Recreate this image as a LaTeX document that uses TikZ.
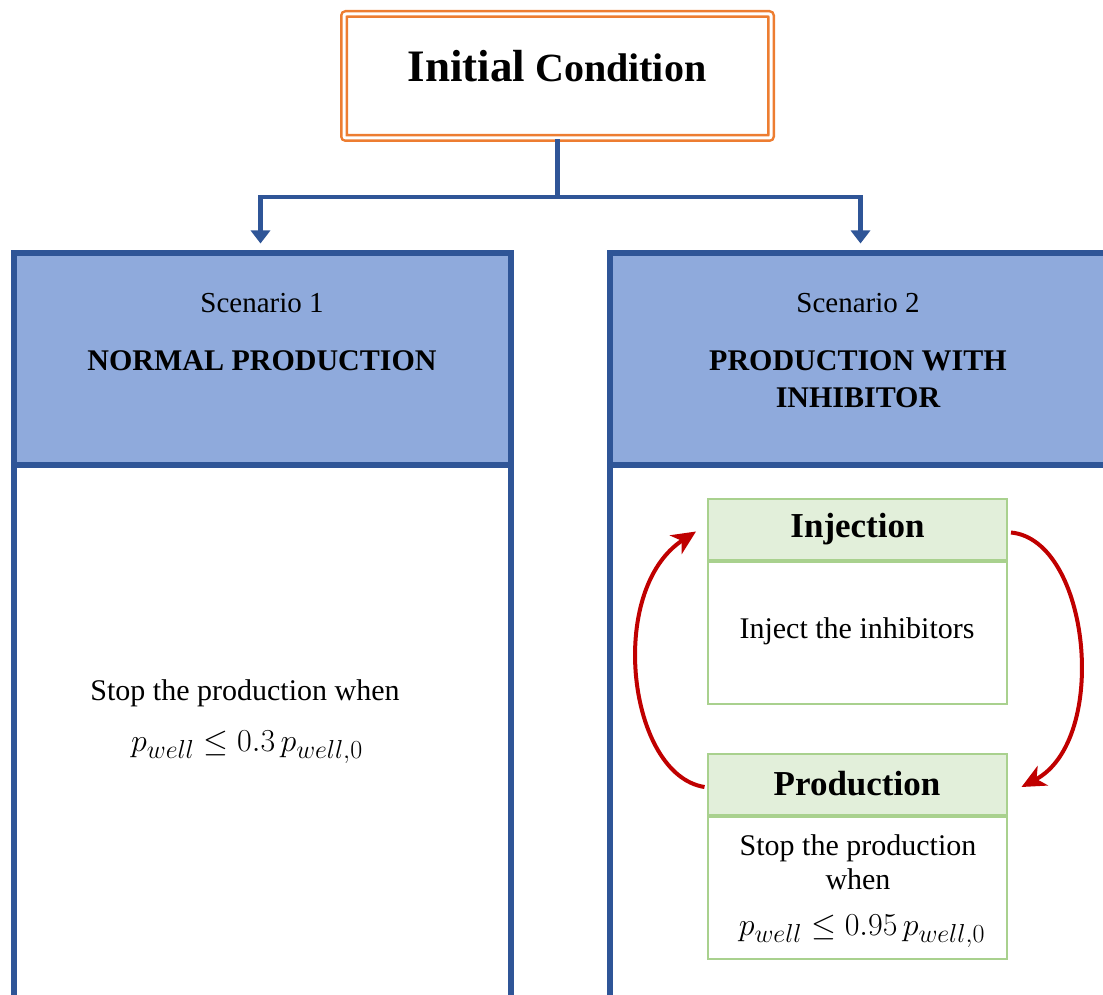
\RequirePackage{fix-cm}
\documentclass[tikz,border=0pt]{standalone}
\usepackage{fontspec}
\setmainfont{Liberation Serif}
\usetikzlibrary{arrows.meta,calc}
\DeclareMathSizes{32}{32}{26}{20}
\definecolor{bluedark}{HTML}{2F5597}
\definecolor{bluefill}{HTML}{8FAADC}
\definecolor{orangeln}{HTML}{ED7D31}
\definecolor{greenln}{HTML}{A9D18E}
\definecolor{greenfill}{HTML}{E2EFDA}
\definecolor{redarrow}{HTML}{C00000}
\tikzset{
  initbox/.style={draw=orangeln, double=white, line width=2.5pt, double distance=3pt, rounded corners=2pt, minimum width=427pt, minimum height=124pt, inner sep=0pt},
  schead/.style={draw=bluedark, fill=bluefill, line width=6pt, minimum width=497pt, minimum height=212pt, inner sep=0pt},
  scbody/.style={draw=bluedark, fill=white, line width=6pt, minimum width=497pt, minimum height=560pt, inner sep=0pt},
  ghead/.style={draw=greenln, fill=greenfill, line width=2pt, minimum width=299pt, minimum height=61pt, inner sep=0pt, font=\fontsize{35}{40}\selectfont\bfseries},
  gbody/.style={draw=greenln, fill=white, line width=2pt, minimum width=299pt, minimum height=142pt, inner sep=0pt},
  conn/.style={draw=bluedark, line width=4.5pt, -{Triangle[length=13pt,width=19pt]}},
  loopar/.style={draw=redarrow, line width=4pt, -{Stealth[length=24pt,width=22pt,inset=7pt]}},
  txt/.style={font=\fontsize{30}{36}\selectfont, inner sep=0pt, align=center},
  mtxt/.style={font=\fontsize{32}{36}\selectfont, inner sep=0pt},
  sctxt/.style={font=\fontsize{29}{34}\selectfont, inner sep=0pt},
  bigtxt/.style={font=\fontsize{30}{34}\selectfont\bfseries, inner sep=0pt, align=center},
}
\begin{document}
\begin{tikzpicture}[x=1pt,y=-1pt]
\useasboundingbox (0,0) rectangle (1103,995);
\clip (0,0) rectangle (1103,995);

% Initial condition
\node[initbox] (init) at (557.5,76) {};
\node[inner sep=0pt, font=\bfseries] (inittxt) at (557,66) {{\fontsize{45}{50}\selectfont Initial}{\fontsize{40}{45}\selectfont\ Condition}};

% Scenario boxes
\node[scbody] (s1body) at (262.5,745) {};
\node[schead] (s1head) at (262.5,358.5) {};
\node[scbody] (s2body) at (858.5,745) {};
\node[schead] (s2head) at (858.5,358.5) {};

\node[sctxt] (s1t) at (262,303) {Scenario 1};
\node[bigtxt] (s1n) at (262,361) {NORMAL PRODUCTION};
\node[sctxt] (s2t) at (858,303) {Scenario 2};
\node[bigtxt] (s2n) at (858,379) {PRODUCTION WITH\\[3pt]INHIBITOR};

% connectors
\coordinate (split) at ($(init.south)+(0,58)$);
\draw[conn] (init.south) -- (split) -| ($(s1head.north)+(-2,-6)$);
\draw[conn] (split) -| ($(s2head.north)+(2,-6)$);

% Scenario 1 body text
\node[txt] (s1stop) at (245,693) {Stop the production when};
\node[mtxt] (s1math) at (247,747) {$p_{well} \le 0.3\,p_{well,0}$};

% Scenario 2 green boxes
\node[ghead] (injh) at (857.5,529.5) {Injection};
\node[gbody, anchor=north] (injb) at (injh.south) {};
\node[txt] (injt) at (857,631) {Inject the inhibitors};

\node[ghead] (prodh) at (857,784) {Production};
\node[gbody, anchor=north] (prodb) at (prodh.south) {};
\node[txt] (prodt) at (858,862) {Stop the production\\[-2pt]when};
\node[mtxt] (prodm) at (862,931) {$p_{well} \le 0.95\,p_{well,0}$};

% loop arrows
\draw[loopar] ($(prodh.west)+(-2,3)$) .. controls (628,775) and (606,590) .. ($(injh.west)+(-11,2)$);
\draw[loopar] ($(injh.east)+(3,3)$) .. controls (1090,540) and (1110,740) .. ($(prodh.east)+(14,3)$);
\end{tikzpicture}
\end{document}
